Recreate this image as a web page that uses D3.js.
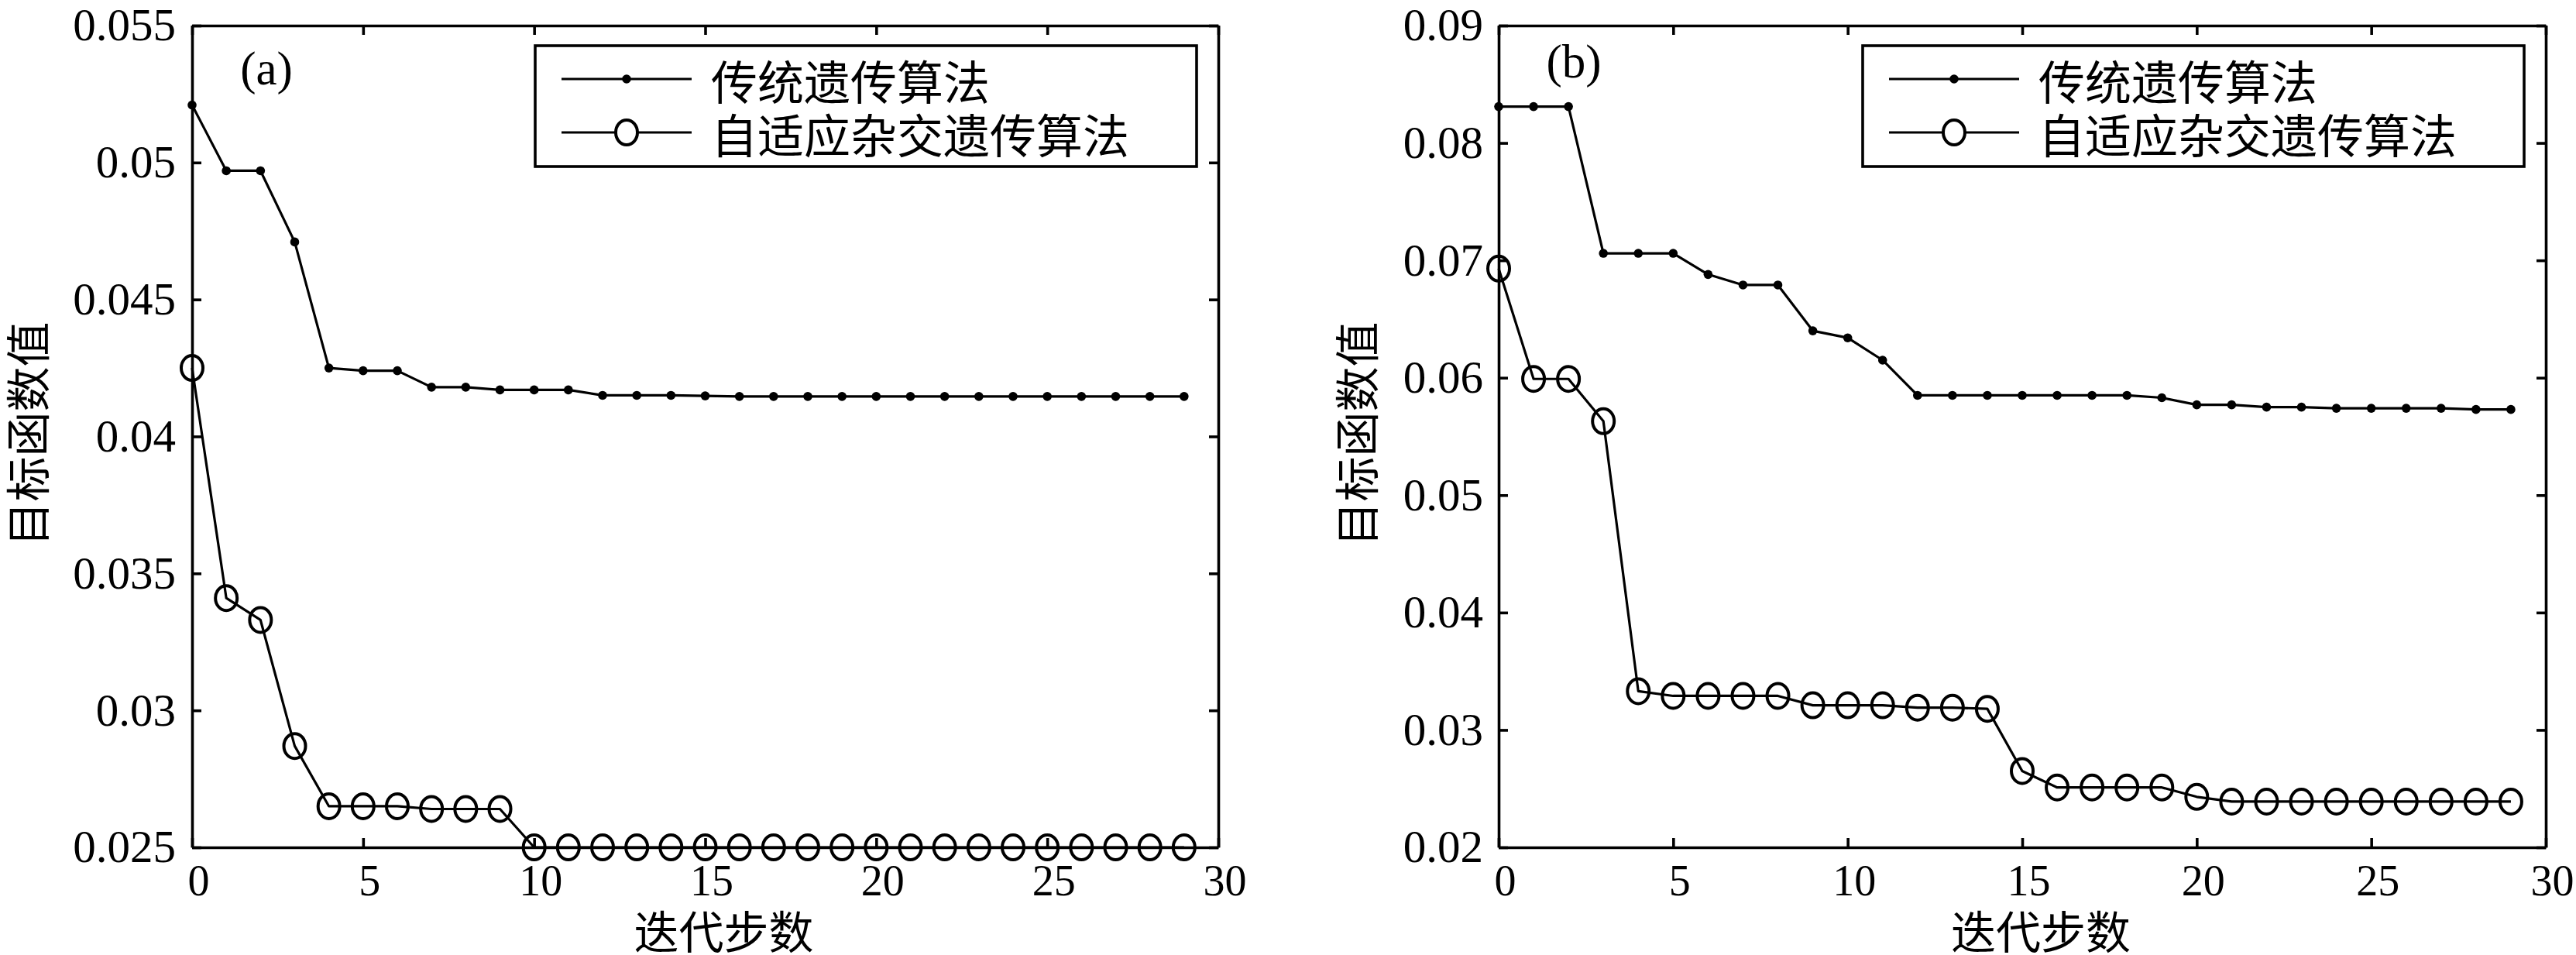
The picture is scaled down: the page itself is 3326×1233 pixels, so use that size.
<!DOCTYPE html>
<html><head><meta charset="utf-8">
<script src="https://cdn.jsdelivr.net/npm/d3@7/dist/d3.min.js"></script>
<style>body{margin:0;background:#fff;} svg{display:block;}</style>
</head><body>
<script>
// ---------- data ----------
const iterations = d3.range(0, 30);
const seriesNames = ["传统遗传算法", "自适应杂交遗传算法"];
const xTicks = [0, 5, 10, 15, 20, 25, 30];
const xTickLabels = ["0", "5", "10", "15", "20", "25", "30"];
const xLabel = "迭代步数";
const yLabel = "目标函数值";

// panel (a)
const tradA = [0.0521, 0.0497, 0.0497, 0.0471, 0.0425, 0.0424, 0.0424, 0.0418, 0.0418, 0.0417,
               0.0417, 0.0417, 0.0415, 0.0415, 0.0415, 0.04148, 0.04146, 0.04146, 0.04146, 0.04146,
               0.04146, 0.04146, 0.04146, 0.04146, 0.04146, 0.04146, 0.04146, 0.04146, 0.04146, 0.04146];
const adaptA = [0.0425, 0.0341, 0.0333, 0.0287, 0.0265, 0.0265, 0.0265, 0.0264, 0.0264, 0.0264,
                0.0250, 0.0250, 0.0250, 0.0250, 0.0250, 0.0250, 0.0250, 0.0250, 0.0250, 0.0250,
                0.0250, 0.0250, 0.0250, 0.0250, 0.0250, 0.0250, 0.0250, 0.0250, 0.0250, 0.0250];
const yTicksA = [0.025, 0.03, 0.035, 0.04, 0.045, 0.05, 0.055];
const yTickLabelsA = ["0.025", "0.03", "0.035", "0.04", "0.045", "0.05", "0.055"];

// panel (b)
const tradB = [0.0831, 0.0831, 0.0831, 0.0706, 0.0706, 0.0706, 0.0688, 0.0679, 0.0679, 0.0640,
               0.0634, 0.0615, 0.0585, 0.0585, 0.0585, 0.0585, 0.0585, 0.0585, 0.0585, 0.0583,
               0.0577, 0.0577, 0.0575, 0.0575, 0.0574, 0.0574, 0.0574, 0.0574, 0.0573, 0.0573];
const adaptB = [0.0693, 0.0599, 0.0599, 0.0563, 0.0333, 0.0329, 0.0329, 0.0329, 0.0329, 0.0321,
                0.0321, 0.0321, 0.0319, 0.0319, 0.0318, 0.0265, 0.0251, 0.0251, 0.0251, 0.0251,
                0.0243, 0.0239, 0.0239, 0.0239, 0.0239, 0.0239, 0.0239, 0.0239, 0.0239, 0.0239];
const yTicksB = [0.02, 0.03, 0.04, 0.05, 0.06, 0.07, 0.08, 0.09];
const yTickLabelsB = ["0.02", "0.03", "0.04", "0.05", "0.06", "0.07", "0.08", "0.09"];

// ---------- drawing ----------
const W = 3326, H = 1233;
const svg = d3.select("body").append("svg").attr("width", W).attr("height", H)
  .attr("viewBox", `0 0 ${W} ${H}`);

const NUM_FONT = "'Liberation Serif','Times New Roman',serif";
const CJK_FONT = "'Noto Sans CJK SC','Noto Sans',sans-serif";
const LINE_W = 3.2, AXIS_W = 3.6;

function panel(cfg) {
  const x = d3.scaleLinear().domain([0, 30]).range([cfg.left, cfg.right]);
  const y = d3.scaleLinear().domain(cfg.yDomain).range([cfg.bottom, cfg.top]);
  const g = svg.append("g");

  const styleAxis = sel => {
    sel.selectAll(".domain").attr("stroke", "#000").attr("stroke-width", AXIS_W);
    sel.selectAll(".tick line").attr("stroke", "#000").attr("stroke-width", AXIS_W);
  };

  // bottom
  g.append("g").attr("transform", `translate(0,${cfg.bottom})`)
    .call(d3.axisBottom(x).tickValues(xTicks).tickFormat((d, i) => xTickLabels[i])
      .tickSizeInner(-12).tickSizeOuter(0).tickPadding(22))
    .call(styleAxis)
    .call(s => s.selectAll("text").attr("font-family", NUM_FONT).attr("font-size", 56)
      .attr("fill", "#000").attr("dx", 8));
  // top
  g.append("g").attr("transform", `translate(0,${cfg.top})`)
    .call(d3.axisTop(x).tickValues(xTicks).tickFormat("").tickSizeInner(-12).tickSizeOuter(0))
    .call(styleAxis);
  // left
  g.append("g").attr("transform", `translate(${cfg.left},0)`)
    .call(d3.axisLeft(y).tickValues(cfg.yTicks).tickFormat((d, i) => cfg.yTickLabels[i])
      .tickSizeInner(-12).tickSizeOuter(0).tickPadding(cfg.yPad))
    .call(styleAxis)
    .call(s => s.selectAll("text").attr("font-family", NUM_FONT).attr("font-size", 59)
      .attr("fill", "#000"));
  // right
  g.append("g").attr("transform", `translate(${cfg.right},0)`)
    .call(d3.axisRight(y).tickValues(cfg.yTicks).tickFormat("").tickSizeInner(-12).tickSizeOuter(0))
    .call(styleAxis);

  const line = d3.line().x((d, i) => x(iterations[i])).y(d => y(d));

  // traditional GA
  g.append("path").datum(cfg.trad).attr("d", line).attr("fill", "none")
    .attr("stroke", "#000").attr("stroke-width", LINE_W).attr("stroke-linejoin", "round");
  g.append("g").selectAll("circle").data(cfg.trad).join("circle")
    .attr("cx", (d, i) => x(iterations[i])).attr("cy", d => y(d)).attr("r", 5.8).attr("fill", "#000");

  // adaptive hybrid GA
  g.append("path").datum(cfg.adapt).attr("d", line).attr("fill", "none")
    .attr("stroke", "#000").attr("stroke-width", LINE_W).attr("stroke-linejoin", "round");
  g.append("g").selectAll("ellipse").data(cfg.adapt).join("ellipse")
    .attr("cx", (d, i) => x(iterations[i])).attr("cy", d => y(d)).attr("rx", 14).attr("ry", 16)
    .attr("fill", "none").attr("stroke", "#000").attr("stroke-width", 4);

  // panel tag
  g.append("text").attr("x", cfg.tagX).attr("y", cfg.tagY).attr("text-anchor", "middle")
    .attr("font-family", NUM_FONT).attr("font-size", 61).text(cfg.tag);

  // axis labels
  g.append("text").attr("transform", `translate(${cfg.yLabelX},${(cfg.top + cfg.bottom) / 2 - 3}) rotate(-90)`)
    .attr("text-anchor", "middle").attr("dominant-baseline", "central")
    .attr("font-family", CJK_FONT).attr("font-size", 58).text(yLabel);
  g.append("text").attr("x", (cfg.left + cfg.right) / 2 + 24).attr("y", 1200)
    .attr("text-anchor", "middle").attr("dominant-baseline", "central")
    .attr("font-family", CJK_FONT).attr("font-size", 58).text(xLabel);

  // legend
  const lx = cfg.right - 882, ly = cfg.top + 26, lw = 854, lh = 156;
  const lg = g.append("g").attr("transform", `translate(${lx},${ly})`);
  lg.append("rect").attr("width", lw).attr("height", lh).attr("fill", "#fff")
    .attr("stroke", "#000").attr("stroke-width", AXIS_W);
  const rows = [43, 112];
  seriesNames.forEach((name, k) => {
    lg.append("line").attr("x1", 34).attr("x2", 202).attr("y1", rows[k]).attr("y2", rows[k])
      .attr("stroke", "#000").attr("stroke-width", LINE_W);
    if (k === 0) {
      lg.append("circle").attr("cx", 118).attr("cy", rows[k]).attr("r", 5.8).attr("fill", "#000");
    } else {
      lg.append("ellipse").attr("cx", 118).attr("cy", rows[k]).attr("rx", 14).attr("ry", 16)
        .attr("fill", "#fff").attr("stroke", "#000").attr("stroke-width", 4);
    }
    lg.append("text").attr("x", 227).attr("y", rows[k]).attr("dominant-baseline", "central")
      .attr("font-family", CJK_FONT).attr("font-size", 60).text(name);
  });
}

panel({ left: 248, right: 1573, top: 33, bottom: 1094, yDomain: [0.025, 0.055],
  yTicks: yTicksA, yTickLabels: yTickLabelsA, yPad: 21, trad: tradA, adapt: adaptA,
  tag: "(a)", tagX: 344, tagY: 109, yLabelX: 33 });
panel({ left: 1935, right: 3287, top: 33, bottom: 1094, yDomain: [0.02, 0.09],
  yTicks: yTicksB, yTickLabels: yTickLabelsB, yPad: 20, trad: tradB, adapt: adaptB,
  tag: "(b)", tagX: 2032, tagY: 100, yLabelX: 1749 });
</script>
</body></html>
